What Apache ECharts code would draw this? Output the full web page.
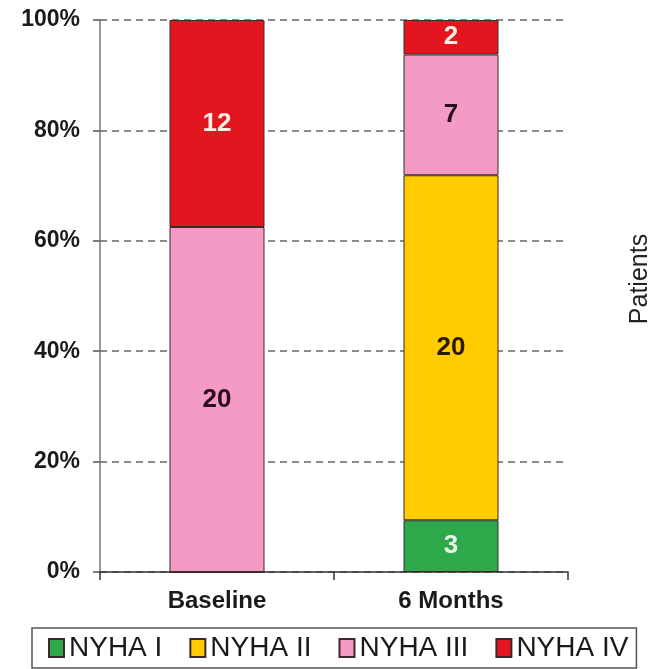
<!DOCTYPE html>
<html>
<head>
<meta charset="utf-8">
<script src="https://cdn.jsdelivr.net/npm/echarts@6/dist/echarts.min.js"></script>
<style>
  html, body { margin: 0; padding: 0; background: #fff; }
  #chart { width: 652px; height: 669px; }
</style>
</head>
<body>
<div id="chart"></div>
<script>
// Patient counts per NYHA class at each visit
const categories = ['Baseline', '6 Months'];
const nyhaI   = [0, 3];
const nyhaII  = [0, 20];
const nyhaIII = [20, 7];
const nyhaIV  = [12, 2];
const yTicks = [0, 20, 40, 60, 80, 100];

const classes = [
  { name: 'NYHA I',   counts: nyhaI,   color: '#2ea84a', text: '#e6f5e6' },
  { name: 'NYHA II',  counts: nyhaII,  color: '#ffcc00', text: '#2a1800' },
  { name: 'NYHA III', counts: nyhaIII, color: '#f39bc4', text: '#2e0c20' },
  { name: 'NYHA IV',  counts: nyhaIV,  color: '#e3161f', text: '#fbeee4' }
];

// Totals per visit, used to turn counts into a 100% stack
const totals = categories.map((_, i) =>
  classes.reduce((s, c) => s + c.counts[i], 0));

const FONT = 'Arial, "Liberation Sans", sans-serif';

const series = classes.map(c => ({
  name: c.name,
  type: 'bar',
  stack: 'all',
  barWidth: 95,
  data: c.counts.map((v, i) => ({ value: v / totals[i] * 100, count: v })),
  itemStyle: { color: c.color, borderColor: '#3a2a2a', borderWidth: 1 },
  label: {
    show: true,
    position: 'inside',
    fontFamily: FONT,
    fontSize: 26,
    fontWeight: 'bold',
    color: c.text,
    formatter: p => (p.data.count > 0 ? String(p.data.count) : '')
  },
  emphasis: { disabled: true }
}));

const chart = echarts.init(document.getElementById('chart'), null, { renderer: 'canvas' });
chart.setOption({
  animation: false,
  backgroundColor: '#ffffff',
  grid: { left: 100, right: 84, top: 20, bottom: 97 },
  xAxis: {
    type: 'category',
    data: categories,
    axisLine: { lineStyle: { color: '#333', width: 1.5 } },
    axisTick: { show: true, alignWithLabel: false, length: 8, lineStyle: { color: '#333', width: 1.5 } },
    axisLabel: { fontFamily: FONT, fontSize: 24, fontWeight: 'bold', color: '#1a1a1a', margin: 17 }
  },
  yAxis: {
    type: 'value',
    min: yTicks[0],
    max: yTicks[yTicks.length - 1],
    interval: 20,
    axisLine: { show: true, lineStyle: { color: '#777', width: 1.5 } },
    axisTick: { show: true, length: 7, lineStyle: { color: '#555', width: 1.5 } },
    axisLabel: {
      fontFamily: FONT, fontSize: 23, fontWeight: 'bold', color: '#1a1a1a', margin: 20,
      formatter: v => v + '%'
    },
    splitLine: { show: true, lineStyle: { color: '#666', width: 1.5, type: [7, 5] } }
  },
  legend: {
    data: classes.map(c => c.name),
    left: 32,
    top: 628,
    padding: [6, 8, 6, 16],
    itemGap: 27,
    itemWidth: 15,
    itemHeight: 18,
    icon: 'rect',
    borderColor: '#555',
    borderWidth: 1.5,
    textStyle: { fontFamily: FONT, fontSize: 28, color: '#1a1a1a' }
  },
  graphic: [{
    type: 'text',
    x: 640,
    y: 279,
    rotation: Math.PI / 2,
    style: {
      text: 'Patients',
      fontFamily: FONT,
      fontSize: 25,
      fill: '#222',
      align: 'center',
      verticalAlign: 'middle'
    }
  }],
  series: series
});
</script>
</body>
</html>
